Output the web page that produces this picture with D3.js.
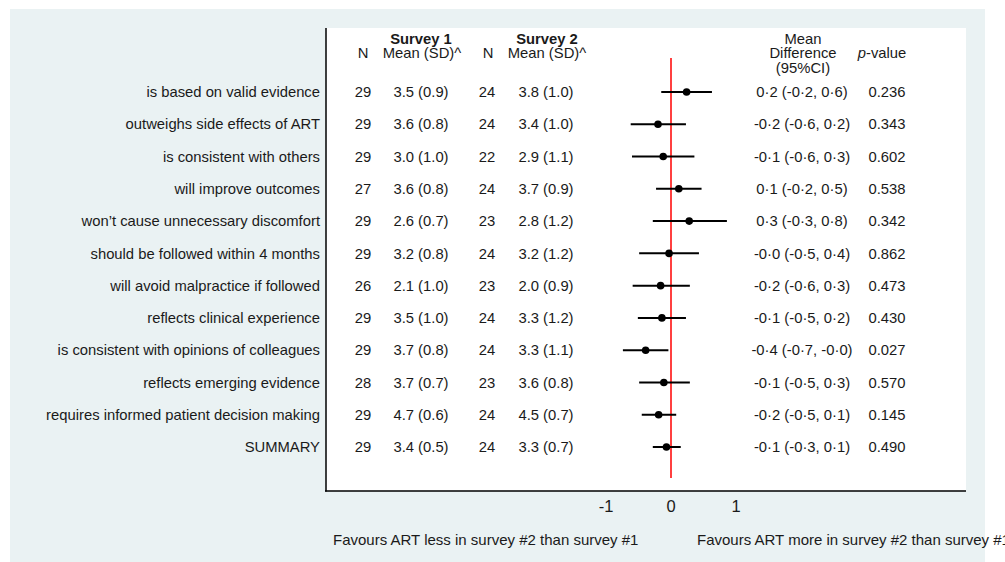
<!DOCTYPE html>
<html>
<head>
<meta charset="utf-8">
<script src="https://cdn.jsdelivr.net/npm/d3@7"></script>
<style>
  body { margin: 0; background: #ffffff; }
  svg text { font-family: "Liberation Sans", Arial, sans-serif; fill: #1a1a1a; }
</style>
</head>
<body>
<svg id="forest" width="1005" height="562"></svg>
<script>
// items, survey columns, estimates
var items = ["is based on valid evidence", "outweighs side effects of ART",
  "is consistent with others", "will improve outcomes",
  "won\u2019t cause unnecessary discomfort", "should be followed within 4 months",
  "will avoid malpractice if followed", "reflects clinical experience",
  "is consistent with opinions of colleagues", "reflects emerging evidence",
  "requires informed patient decision making", "SUMMARY"];
var n1 = [29, 29, 29, 27, 29, 29, 26, 29, 29, 28, 29, 29];
var mean1 = ["3.5 (0.9)", "3.6 (0.8)", "3.0 (1.0)", "3.6 (0.8)", "2.6 (0.7)", "3.2 (0.8)",
  "2.1 (1.0)", "3.5 (1.0)", "3.7 (0.8)", "3.7 (0.7)", "4.7 (0.6)", "3.4 (0.5)"];
var n2 = [24, 24, 22, 24, 23, 24, 23, 24, 24, 23, 24, 24];
var mean2 = ["3.8 (1.0)", "3.4 (1.0)", "2.9 (1.1)", "3.7 (0.9)", "2.8 (1.2)", "3.2 (1.2)",
  "2.0 (0.9)", "3.3 (1.2)", "3.3 (1.1)", "3.6 (0.8)", "4.5 (0.7)", "3.3 (0.7)"];
var diff = [0.24, -0.2, -0.12, 0.12, 0.28, -0.03, -0.16, -0.14, -0.39, -0.11, -0.19, -0.07];
var lower = [-0.15, -0.62, -0.6, -0.23, -0.28, -0.49, -0.59, -0.51, -0.74, -0.49, -0.45, -0.28];
var upper = [0.63, 0.23, 0.36, 0.47, 0.86, 0.43, 0.29, 0.23, -0.04, 0.29, 0.08, 0.15];
var diffText = ["0\u00b72 (-0\u00b72, 0\u00b76)", "-0\u00b72 (-0\u00b76, 0\u00b72)", "-0\u00b71 (-0\u00b76, 0\u00b73)",
  "0\u00b71 (-0\u00b72, 0\u00b75)", "0\u00b73 (-0\u00b73, 0\u00b78)", "-0\u00b70 (-0\u00b75, 0\u00b74)",
  "-0\u00b72 (-0\u00b76, 0\u00b73)", "-0\u00b71 (-0\u00b75, 0\u00b72)", "-0\u00b74 (-0\u00b77, -0\u00b70)",
  "-0\u00b71 (-0\u00b75, 0\u00b73)", "-0\u00b72 (-0\u00b75, 0\u00b71)", "-0\u00b71 (-0\u00b73, 0\u00b71)"];
var pvals = ["0.236", "0.343", "0.602", "0.538", "0.342", "0.862",
  "0.473", "0.430", "0.027", "0.570", "0.145", "0.490"];
var xTicks = [-1, 0, 1];

var svg = d3.select("#forest");

// graph region and plot region
svg.append("rect").attr("x", 10).attr("y", 9).attr("width", 975).attr("height", 553)
    .attr("fill", "#eaf2f3");
svg.append("rect").attr("x", 326).attr("y", 28).attr("width", 640).attr("height", 463)
    .attr("fill", "#ffffff");
svg.append("line").attr("x1", 326).attr("x2", 326).attr("y1", 28).attr("y2", 491.5)
    .attr("stroke", "#000").attr("stroke-width", 1.5);
svg.append("line").attr("x1", 325).attr("x2", 966).attr("y1", 491).attr("y2", 491)
    .attr("stroke", "#000").attr("stroke-width", 1.5);

var x = d3.scaleLinear().domain([-1, 1]).range([606, 736]);
var y = d3.scalePoint().domain(d3.range(items.length)).range([92, 447]);

var fs = 14.8;
function col(arr, cx, anchor) {
  svg.append("g").selectAll("text").data(arr).join("text")
      .attr("x", cx).attr("y", (d, i) => y(i)).attr("dy", "0.35em")
      .attr("text-anchor", anchor || "middle").attr("font-size", fs)
      .text(d => d);
}
col(items, 320, "end");
col(n1, 363);
col(mean1, 421);
col(n2, 487);
col(mean2, 546);
col(diffText, 802);
col(pvals, 887);

// headers
function head(t, cx, cy, bold) {
  return svg.append("text").attr("x", cx).attr("y", cy).attr("dy", "0.35em")
      .attr("text-anchor", "middle").attr("font-size", fs)
      .attr("font-weight", bold ? "bold" : null).text(t);
}
head("Survey 1", 421, 39, true);
head("N", 363, 53);
head("Mean (SD)^", 422, 53);
head("Survey 2", 547, 39, true);
head("N", 488, 53);
head("Mean (SD)^", 547, 53);
head("Mean", 803, 39);
head("Difference", 803, 53);
head("(95%CI)", 803, 68);
var pv = head("", 882, 53);
pv.append("tspan").attr("font-style", "italic").text("p");
pv.append("tspan").text("-value");

// zero line
svg.append("line").attr("x1", x(0)).attr("x2", x(0)).attr("y1", 58).attr("y2", 478)
    .attr("stroke", "#ff0000").attr("stroke-width", 1.5);

// CIs and points
var g = svg.append("g");
g.selectAll("line.ci").data(diff).join("line").attr("class", "ci")
    .attr("x1", (d, i) => x(lower[i])).attr("x2", (d, i) => x(upper[i]))
    .attr("y1", (d, i) => y(i)).attr("y2", (d, i) => y(i))
    .attr("stroke", "#000").attr("stroke-width", 2);
g.selectAll("circle").data(diff).join("circle")
    .attr("cx", d => x(d)).attr("cy", (d, i) => y(i)).attr("r", 3.8).attr("fill", "#000");

// x axis tick labels
svg.append("g").selectAll("text").data(xTicks).join("text")
    .attr("x", d => x(d)).attr("y", 506).attr("dy", "0.35em")
    .attr("text-anchor", "middle").attr("font-size", 16.5).text(d => d);

svg.append("text").attr("x", 333).attr("y", 540).attr("dy", "0.35em")
    .attr("font-size", 15).text("Favours ART less in survey #2 than survey #1");
svg.append("text").attr("x", 697).attr("y", 540).attr("dy", "0.35em")
    .attr("font-size", 15).text("Favours ART more in survey #2 than survey #1");
</script>
</body>
</html>
